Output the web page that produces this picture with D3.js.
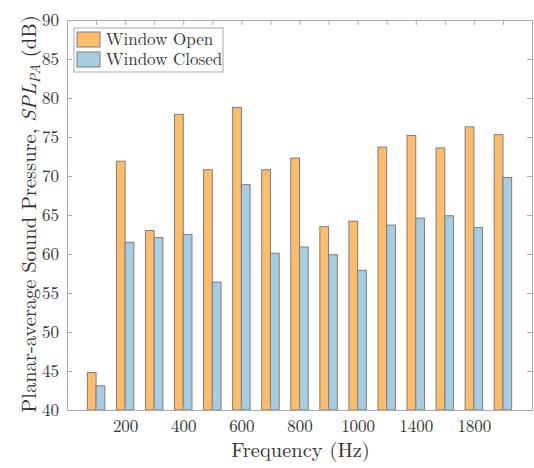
<!DOCTYPE html>
<html>
<head>
<meta charset="utf-8">
<script src="https://cdn.jsdelivr.net/npm/d3@7"></script>
<style>
  html, body { margin: 0; padding: 0; background: #fff; }
  svg { display: block; }
</style>
</head>
<body>
<svg id="chart" width="534" height="468"></svg>
<script>
// Frequency bands (Hz)
const frequencies = [100, 200, 300, 400, 500, 600, 700, 800, 900, 1000, 1200, 1400, 1600, 1800, 2000];
// Planar-average SPL (dB), window open
const windowOpen = [44.8, 71.9, 63.0, 77.9, 70.8, 78.8, 70.8, 72.3, 63.5, 64.2, 73.7, 75.2, 73.6, 76.3, 75.3];
// Planar-average SPL (dB), window closed
const windowClosed = [43.1, 61.5, 62.1, 62.5, 56.4, 68.9, 60.1, 60.9, 59.9, 57.9, 63.7, 64.6, 64.9, 63.4, 69.8];
// Labelled frequencies on the x axis
const xTickLabels = [200, 400, 600, 800, 1000, 1400, 1800];
const yTicks = [40, 45, 50, 55, 60, 65, 70, 75, 80, 85, 90];
const seriesNames = ["Window Open", "Window Closed"];
const seriesColors = ["#ffbd6c", "#a6cde2"];

const FONT = '"Latin Modern Roman", "Liberation Serif", serif';
const TEXT = "#333";

const svg = d3.select("#chart");
const plot = { left: 67, right: 532, top: 20, bottom: 410 };

// Bars sit at integer positions 1..n, with half-empty slots at each end
const x = d3.scaleLinear().domain([0, frequencies.length + 1]).range([plot.left, plot.right]);
const y = d3.scaleLinear().domain([40, 90]).range([plot.bottom, plot.top]);
const barW = 0.3;

const axisColor = "#aaa";
const tickLen = 5;

// Bars
const series = [windowOpen, windowClosed];
series.forEach((vals, s) => {
  svg.append("g").selectAll("rect")
    .data(vals)
    .join("rect")
    .attr("x", (d, i) => x(i + 1 + (s === 0 ? -barW : 0)))
    .attr("width", x(barW) - x(0))
    .attr("y", d => y(d))
    .attr("height", d => y(40) - y(d))
    .attr("fill", seriesColors[s])
    .attr("stroke", "#7d7d7d")
    .attr("stroke-width", 1);
});

// Axes: bottom / left with labels, top / right mirrored, ticks pointing inward
const xIdx = frequencies.map((f, i) => i + 1);
const fmtX = i => xTickLabels.includes(frequencies[i - 1]) ? String(frequencies[i - 1]) : "";

const gx = svg.append("g").attr("transform", `translate(0,${plot.bottom})`)
  .call(d3.axisBottom(x).tickValues(xIdx).tickFormat(fmtX).tickSizeInner(-tickLen).tickSizeOuter(0).tickPadding(10));
const gxTop = svg.append("g").attr("transform", `translate(0,${plot.top})`)
  .call(d3.axisTop(x).tickValues(xIdx).tickFormat("").tickSizeInner(-tickLen).tickSizeOuter(0));
const gy = svg.append("g").attr("transform", `translate(${plot.left},0)`)
  .call(d3.axisLeft(y).tickValues(yTicks).tickSizeInner(-tickLen).tickSizeOuter(0).tickPadding(8));
const gyRight = svg.append("g").attr("transform", `translate(${plot.right},0)`)
  .call(d3.axisRight(y).tickValues(yTicks).tickFormat("").tickSizeInner(-tickLen).tickSizeOuter(0));

[gx, gxTop, gy, gyRight].forEach(g => {
  g.attr("font-family", FONT).attr("font-size", 17);
  g.select(".domain").attr("stroke", axisColor);
  g.selectAll(".tick line").attr("stroke", axisColor);
  g.selectAll(".tick text").attr("fill", TEXT);
  // unlabelled ticks carry no text element
  g.selectAll(".tick text").filter(function () { return this.textContent === ""; }).remove();
});
gy.selectAll(".tick text").attr("dy", "0.34em");

// Hide tick marks that fall at the ends of the axis box
gy.selectAll(".tick").filter(d => d === 40 || d === 90).select("line").remove();
gyRight.selectAll(".tick").filter(d => d === 40 || d === 90).select("line").remove();

// Axis titles
svg.append("text")
  .attr("x", (plot.left + plot.right) / 2 + 1)
  .attr("y", 457)
  .attr("text-anchor", "middle")
  .attr("font-family", FONT)
  .attr("font-size", 20.5)
  .attr("fill", TEXT)
  .text("Frequency (Hz)");

const yTitle = svg.append("text")
  .attr("transform", `translate(36,${(plot.top + plot.bottom) / 2 - 1}) rotate(-90)`)
  .attr("text-anchor", "middle")
  .attr("font-family", FONT)
  .attr("font-size", 20.5)
  .attr("fill", TEXT);
yTitle.append("tspan").text("Planar-average Sound Pressure, ");
yTitle.append("tspan").attr("font-style", "italic").text("SPL");
yTitle.append("tspan").attr("font-style", "italic").attr("font-size", 14.5).attr("dy", 4).text("PA");
yTitle.append("tspan").attr("dy", -4).text(" (dB)");

// Legend
const legend = svg.append("g").attr("transform", "translate(74,28)");
legend.append("rect")
  .attr("width", 149).attr("height", 44)
  .attr("fill", "#fff").attr("stroke", axisColor);
seriesNames.forEach((name, i) => {
  const row = legend.append("g").attr("transform", `translate(3,${4 + i * 20})`);
  row.append("rect")
    .attr("width", 23).attr("height", 15)
    .attr("fill", seriesColors[i]).attr("stroke", "#7d7d7d");
  row.append("text")
    .attr("x", 29).attr("y", 13)
    .attr("font-family", FONT)
    .attr("font-size", 17)
    .attr("fill", TEXT)
    .text(name);
});
</script>
</body>
</html>
